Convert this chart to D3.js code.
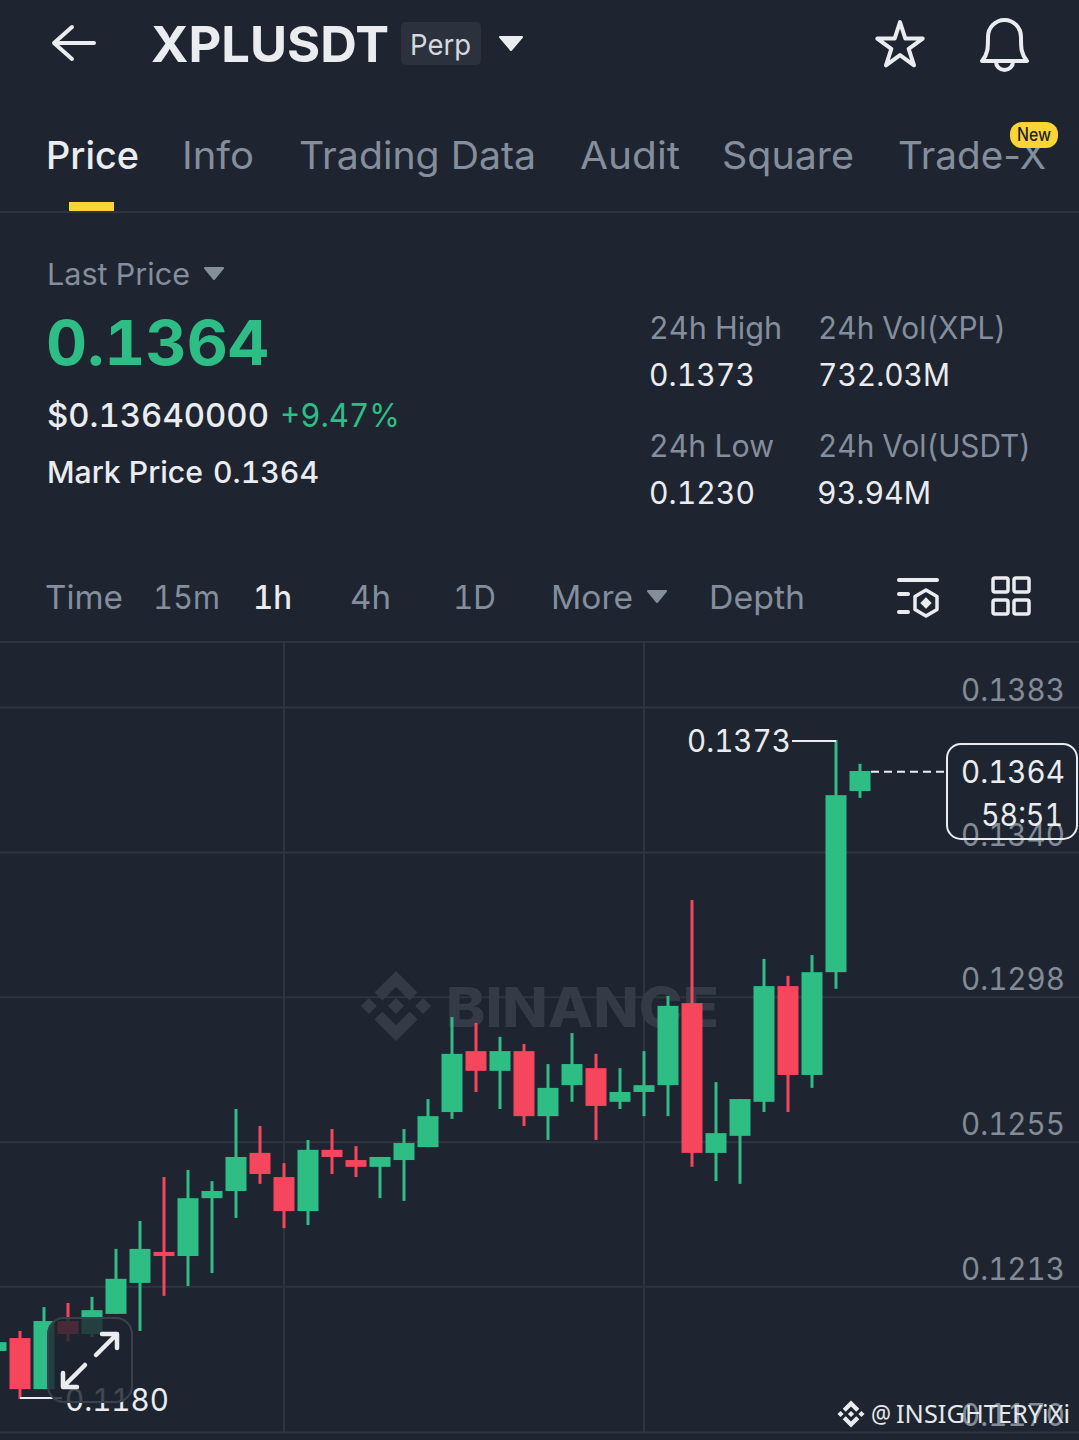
<!DOCTYPE html>
<html>
<head>
<meta charset="utf-8">
<script src="https://cdn.jsdelivr.net/npm/d3@7"></script>
<style>
  html, body { margin: 0; padding: 0; background: #1e2530; }
  svg { display: block; font-variant-numeric: tabular-nums; font-feature-settings: "tnum"; }
</style>
</head>
<body>
<script>
// candles, oldest first
var opens  = [0.11938,0.11976,0.11826,0.12026,0.11988,0.12047,0.12138,0.12229,0.12217,0.12387,0.12408,0.12520,0.12449,0.12349,0.12529,0.12499,0.12479,0.12499,0.12537,0.12640,0.12819,0.12761,0.12819,0.12628,0.12719,0.12769,0.12670,0.12699,0.12719,0.12960,0.12520,0.12570,0.12670,0.13010,0.12749,0.13051,0.13583];
var highs  = [0.11964,0.11997,0.12067,0.12079,0.12097,0.12238,0.12320,0.12449,0.12470,0.12437,0.12649,0.12599,0.12490,0.12558,0.12590,0.12540,0.12508,0.12590,0.12678,0.12919,0.12902,0.12861,0.12840,0.12781,0.12872,0.12811,0.12769,0.12819,0.12981,0.13263,0.12728,0.12678,0.13090,0.13040,0.13101,0.13733,0.13663];
var lows   = [0.11938,0.11797,0.11826,0.11967,0.11979,0.12047,0.11997,0.12100,0.12129,0.12167,0.12329,0.12429,0.12299,0.12308,0.12458,0.12449,0.12387,0.12379,0.12537,0.12620,0.12699,0.12649,0.12599,0.12558,0.12670,0.12558,0.12649,0.12628,0.12628,0.12479,0.12437,0.12429,0.12640,0.12640,0.12711,0.13002,0.13563];
var closes = [0.11964,0.11826,0.12026,0.11988,0.12058,0.12150,0.12238,0.12217,0.12387,0.12408,0.12508,0.12458,0.12349,0.12529,0.12508,0.12479,0.12508,0.12549,0.12628,0.12811,0.12761,0.12819,0.12628,0.12711,0.12781,0.12658,0.12699,0.12719,0.12952,0.12520,0.12578,0.12678,0.13010,0.12749,0.13051,0.13571,0.13642];

var priceTicks = [0.1383,0.13404,0.12979,0.12553,0.12128,0.1170];
var timeGrid = [12, 27]; // candle index where the vertical lines sit
var lastPrice = 0.1364, highMark = 0.1373, lowMark = 0.1180;
var countdown = "58:51";

var tabs = ["Price","Info","Trading Data","Audit","Square","Trade-X"];
var intervals = ["Time","15m","1h","4h","1D","More","Depth"];

var width = 1079, height = 1440;
var bg = "#1e2530", line = "#2e3540", grey = "#848e9c", light = "#eaecef",
    green = "#2ebd85", red = "#f6465d", font = "Inter, sans-serif";

var svg = d3.select("body").append("svg")
    .attr("width", width)
    .attr("height", height)
    .style("font-family", font);

svg.append("rect").attr("width", width).attr("height", height).attr("fill", bg);

var x = d3.scaleLinear().domain([0, opens.length - 1]).range([-4, 860]);
var y = d3.scaleLinear().domain([0.1170, 0.1383]).range([1432, 707]);

// helper for all the app text, fit = width in px the text has in the screenshot
function label(px, py, str, size, color, weight, fit) {
  var t = svg.append("text")
      .attr("x", px).attr("y", py)
      .attr("font-size", size)
      .attr("fill", color)
      .attr("font-weight", weight || 400)
      .text(str);
  if (fit) t.attr("textLength", fit).attr("lengthAdjust", "spacingAndGlyphs");
  return t;
}

function tri(x0, x1, y0, y1, color) {
  svg.append("path")
      .attr("d", d3.line()([[x0, y0], [x1, y0], [(x0 + x1) / 2, y1]]) + "Z")
      .attr("fill", color)
      .attr("stroke", color)
      .attr("stroke-width", 2)
      .attr("stroke-linejoin", "round");
}

function stroked(d, w) {
  return svg.append("path")
      .attr("d", d)
      .attr("fill", "none")
      .attr("stroke", light)
      .attr("stroke-width", w || 4)
      .attr("stroke-linecap", "round")
      .attr("stroke-linejoin", "round");
}

function logo(cx, cy, w, color) {
  var s = w / 126.61;
  svg.append("g")
      .attr("transform", "translate(" + (cx - w / 2) + "," + (cy - w / 2) + ") scale(" + s + ")")
      .attr("fill", color)
    .selectAll("path")
    .data([
      "m38.73 53.2 24.59-24.58 24.6 24.6 14.3-14.31-38.9-38.91-38.89 38.9z",
      "m0 63.31 14.3-14.31 14.31 14.31-14.31 14.3z",
      "m38.73 73.41 24.59 24.59 24.6-24.6 14.31 14.29-38.9 38.91-38.91-38.88z",
      "m98 63.31 14.3-14.31 14.31 14.3-14.31 14.32z",
      "m77.83 63.3-14.51-14.52-10.73 10.73-1.24 1.23-2.54 2.54 14.52 14.5 14.5-14.48z"
    ])
    .enter().append("path").attr("d", function(d) { return d; });
}

// ---- header
stroked("M94 43H55M72 27L54 43L72 59");
label(151, 62, "XPLUSDT", 50, light, 700, 238);
svg.append("rect").attr("x", 401).attr("y", 22).attr("width", 80).attr("height", 43).attr("rx", 5).attr("fill", "#2b323d");
label(410, 55, "Perp", 29, "#d5d8dd", 400, 61);
tri(500, 522, 37, 50, light);

svg.append("path")
    .attr("d", d3.symbol(d3.symbolStar).size(640))
    .attr("transform", "translate(900,46)")
    .attr("fill", "none")
    .attr("stroke", light)
    .attr("stroke-width", 4)
    .attr("stroke-linejoin", "round");
stroked("M982 61c6-7 6-13 6-24a16.500 17 0 0 1 33 0c0 11 0 17 6 24z");
stroked("M996 62a8.500 8 0 0 0 17 0");

// ---- tabs
var tabX = [46, 182, 299, 580, 722, 898], tabW = [93, 72, 237, 100, 132, 148];
tabs.forEach(function(d, i) {
  label(tabX[i], 169, d, 38, i == 0 ? light : grey, i == 0 ? 500 : 400, tabW[i])
      .style("font-feature-settings", "normal")
      .style("font-variant-numeric", "normal");
});
svg.append("rect").attr("x", 1010).attr("y", 122).attr("width", 48).attr("height", 26).attr("rx", 12).attr("fill", "#fcd535");
label(1017, 141, "New", 18, "#1e2329", 500, 34);
svg.append("rect").attr("x", 69).attr("y", 202).attr("width", 45).attr("height", 9).attr("fill", "#fcd535");
svg.append("rect").attr("x", 0).attr("y", 211).attr("width", width).attr("height", 2).attr("fill", line);

// ---- price block
label(47, 285, "Last Price", 30, grey, 400, 143);
tri(205, 223, 268, 279, grey);
label(46, 365, lastPrice.toFixed(4), 62, green, 700, 223);
label(47, 427, "$0.13640000", 33, light, 500, 222);
label(280, 427, "+9.47%", 33, green, 400, 120);
label(47, 483, "Mark Price", 30, light, 500, 156);
label(213, 483, lastPrice.toFixed(4), 30, light, 500, 106);

label(649, 339, "24h High", 31, grey, 400, 133);
label(649, 386, highMark.toFixed(4), 31, light, 400, 106);
label(818, 339, "24h Vol(XPL)", 31, grey, 400, 188);
label(818, 386, "732.03M", 31, light, 400, 132);
label(649, 457, "24h Low", 31, grey, 400, 125);
label(649, 504, "0.1230", 31, light, 400, 106);
label(818, 457, "24h Vol(USDT)", 31, grey, 400, 213);
label(817, 504, "93.94M", 31, light, 400, 114);

// ---- interval row
var intX = [45, 153, 253, 350, 453, 551, 709], intW = [78, 67, 39, 41, 43, 82, 96];
intervals.forEach(function(d, i) {
  label(intX[i], 609, d, 33, d == "1h" ? light : grey, d == "1h" ? 500 : 400, intW[i]);
});
tri(648, 666, 591, 602, grey);

stroked("M899 580H937M899 594H908M899 612H908", 4);
stroked("M926 590L937 596.500V609.500L926 616L915 609.500V596.500Z", 3.5);
svg.append("rect").attr("x", 922).attr("y", 599).attr("width", 8).attr("height", 8)
    .attr("transform", "rotate(45 926 603)").attr("fill", light);
[[993, 578], [1014, 578], [993, 600], [1014, 600]].forEach(function(p) {
  svg.append("rect").attr("x", p[0]).attr("y", p[1]).attr("width", 15).attr("height", 14).attr("rx", 2)
      .attr("fill", "none").attr("stroke", light).attr("stroke-width", 3.5);
});
svg.append("rect").attr("x", 0).attr("y", 641).attr("width", width).attr("height", 2).attr("fill", line);

// ---- chart grid and price axis
var grid = svg.append("g").attr("class", "grid");

grid.selectAll(".vline")
    .data(timeGrid)
  .enter().append("line")
    .attr("class", "vline")
    .attr("x1", function(d) { return x(d); })
    .attr("x2", function(d) { return x(d); })
    .attr("y1", 643)
    .attr("y2", 1432)
    .attr("stroke", line)
    .attr("stroke-width", 2);

var axis = svg.append("g").attr("class", "price-axis")
    .call(d3.axisRight(y).tickValues(priceTicks).tickSize(width).tickFormat(d3.format(".4f")));
axis.select(".domain").remove();
axis.selectAll("line").attr("stroke", line).attr("stroke-width", 2);
axis.selectAll("text")
    .attr("x", 1065)
    .attr("y", -7)
    .attr("dy", 0)
    .attr("text-anchor", "end")
    .attr("fill", "#838b97")
    .attr("font-family", font)
    .attr("font-size", 31)
    .attr("textLength", 104)
    .attr("lengthAdjust", "spacingAndGlyphs");

// ---- watermark, under the candles
logo(396, 1006, 70, "#353b46");
label(446, 1027, "BINANCE", 55, "#353b46", 800, 273);

// ---- candles
var idx = d3.range(opens.length);
function col(i) { return closes[i] < opens[i] ? red : green; }

var candle = svg.append("g").attr("class", "candles");

candle.selectAll(".wick")
    .data(idx)
  .enter().append("line")
    .attr("class", "wick")
    .attr("x1", function(i) { return x(i); })
    .attr("x2", function(i) { return x(i); })
    .attr("y1", function(i) { return y(highs[i]); })
    .attr("y2", function(i) { return y(lows[i]); })
    .attr("stroke", col)
    .attr("stroke-width", 3);

candle.selectAll(".body")
    .data(idx)
  .enter().append("rect")
    .attr("class", "body")
    .attr("x", function(i) { return x(i) - 10.5; })
    .attr("width", 21)
    .attr("y", function(i) { return y(Math.max(opens[i], closes[i])); })
    .attr("height", function(i) { return Math.abs(y(opens[i]) - y(closes[i])); })
    .attr("fill", col);

// ---- high / low markers
var hi = d3.greatestIndex(highs), lo = d3.leastIndex(lows);
svg.append("path")
    .attr("d", d3.line()([[792, y(highMark)], [x(hi), y(highMark)]]))
    .attr("stroke", light).attr("stroke-width", 2);
label(687, y(highMark) + 11, highMark.toFixed(4), 31, light, 400, 104);

svg.append("path")
    .attr("d", d3.line()([[x(lo), y(lowMark)], [62, y(lowMark)]]))
    .attr("stroke", light).attr("stroke-width", 2);
label(65, y(lowMark) + 13, lowMark.toFixed(4), 31, light, 400, 104);

// ---- last price tag
svg.append("line")
    .attr("x1", 871).attr("x2", 947)
    .attr("y1", y(lastPrice)).attr("y2", y(lastPrice))
    .attr("stroke", light).attr("stroke-width", 2).attr("stroke-dasharray", "8 5");
svg.append("rect")
    .attr("x", 947).attr("y", 744).attr("width", 130).attr("height", 95).attr("rx", 14)
    .attr("fill", "none").attr("stroke", light).attr("stroke-width", 2);
label(961, 783, lastPrice.toFixed(4), 31, light, 400, 104);
label(981, 826, countdown, 31, light, 400, 82);

// ---- fullscreen button
svg.append("rect")
    .attr("x", 48).attr("y", 1318).attr("width", 84).attr("height", 84).attr("rx", 16)
    .attr("fill", bg).attr("fill-opacity", 0.82)
    .attr("stroke", "#3a414d").attr("stroke-width", 2);
stroked("M96 1355L116 1335M102 1334H117V1348", 4.5);
stroked("M85 1365L64 1386M63 1373V1387H77", 4.5);

// ---- bottom credit
logo(851, 1414, 27, "#eaecef");
label(871, 1423, "@", 25, "#e6e8eb", 400, 20).attr("font-family", "Noto Sans");
label(896, 1423, "INSIGHTERYiXi", 25, "#e6e8eb", 400, 174).attr("font-family", "Noto Sans");
</script>
</body>
</html>
